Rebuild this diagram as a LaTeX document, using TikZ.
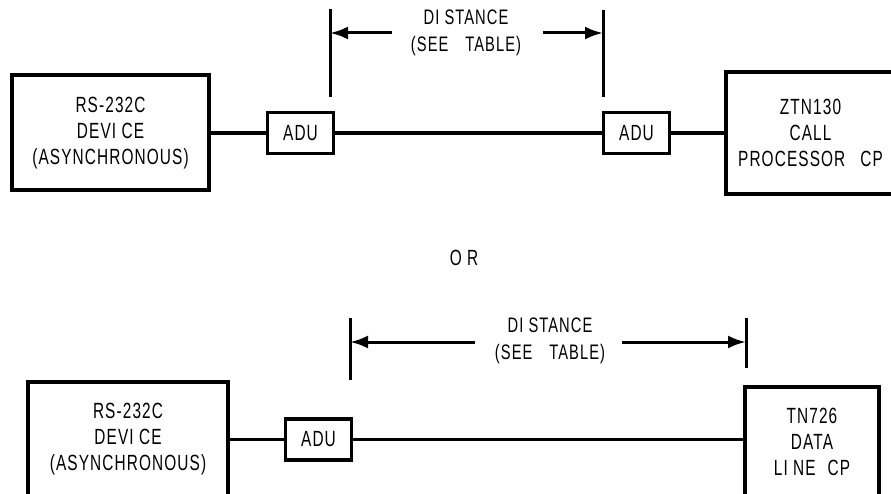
\documentclass[tikz,border=0pt]{standalone}
\usepackage{fontspec}
\newfontfamily\labelfont{Liberation Sans}[FakeStretch=0.7, LetterSpace=5]
\usetikzlibrary{arrows.meta,positioning,calc}
\tikzset{
  unit/.style={draw, line width=4pt, align=center, inner sep=0pt, font=\labelfont\fontsize{22}{26}\selectfont},
  adu/.style={draw, line width=3.5pt, minimum width=66pt, minimum height=41pt, inner sep=0pt, font=\labelfont\fontsize{22}{26}\selectfont},
  wire/.style={line width=3.5pt},
  tick/.style={line width=3pt},
  dimarrow/.style={-{Latex[length=18pt,width=13pt]}, line width=3pt},
  dimtext/.style={align=center, inner sep=0pt, font=\labelfont\fontsize{21}{27}\selectfont}
}
\begin{document}
\begin{tikzpicture}[x=1pt, y=-1pt]
  \useasboundingbox (0,0) rectangle (891,494);

  % upper link
  \node[unit, minimum width=197pt, minimum height=115pt] (dev1) at (110.5,133) {RS-232C\\DEVI CE\\(ASYNCHRONOUS)};
  \node[adu] (adu1a) at (300.5,133) {ADU};
  \node[adu] (adu1b) at (636.5,133) {ADU};
  \node[unit, minimum width=169pt, minimum height=122pt] (cp1) at (810.5,133) {ZTN130\\CALL\\PROCESSOR\hspace{15pt}CP};

  \draw[wire] (dev1) -- (adu1a);
  \draw[wire] (adu1a) -- (adu1b);
  \draw[wire] (adu1b) -- (cp1);

  \node[dimtext] (dim1) at (466,33) {DI STANCE\\(SEE\hspace{17pt}TABLE)};
  \coordinate (tick1l) at (330,9);
  \coordinate (tick1r) at (603,10);
  \draw[tick] (tick1l) -- ++(0,88);
  \draw[tick] (tick1r) -- ++(0,87);
  \coordinate (arr1l) at (392,33);
  \coordinate (arr1r) at (543,33);
  \draw[dimarrow] (arr1l) -- (arr1l -| tick1l);
  \draw[dimarrow] (arr1r) -- (arr1r -| tick1r);

  \node[font=\labelfont\fontsize{22}{26}\selectfont] (or) at (464,258) {O R};

  % lower link
  \node[unit, minimum width=200pt, minimum height=115pt] (dev2) at (128,439.5) {RS-232C\\DEVI CE\\(ASYNCHRONOUS)};
  \node[adu] (adu2) at (318.5,439.5) {ADU};
  \node[unit, minimum width=134pt, minimum height=110pt] (cp2) at (812,442) {TN726\\DATA\\LI NE\hspace{12pt}CP};

  \draw[wire] (dev2) -- (adu2);
  \draw[wire] (adu2) -- (adu2 -| cp2.west);

  \node[dimtext] (dim2) at (550,341) {DI STANCE\\(SEE\hspace{17pt}TABLE)};
  \coordinate (tick2l) at (350,318);
  \coordinate (tick2r) at (746,318);
  \draw[tick] (tick2l) -- ++(0,62);
  \draw[tick] (tick2r) -- ++(0,50);
  \coordinate (arr2l) at (475,342);
  \coordinate (arr2r) at (622,342);
  \draw[dimarrow] (arr2l) -- (arr2l -| tick2l);
  \draw[dimarrow] (arr2r) -- (arr2r -| tick2r);
\end{tikzpicture}
\end{document}
